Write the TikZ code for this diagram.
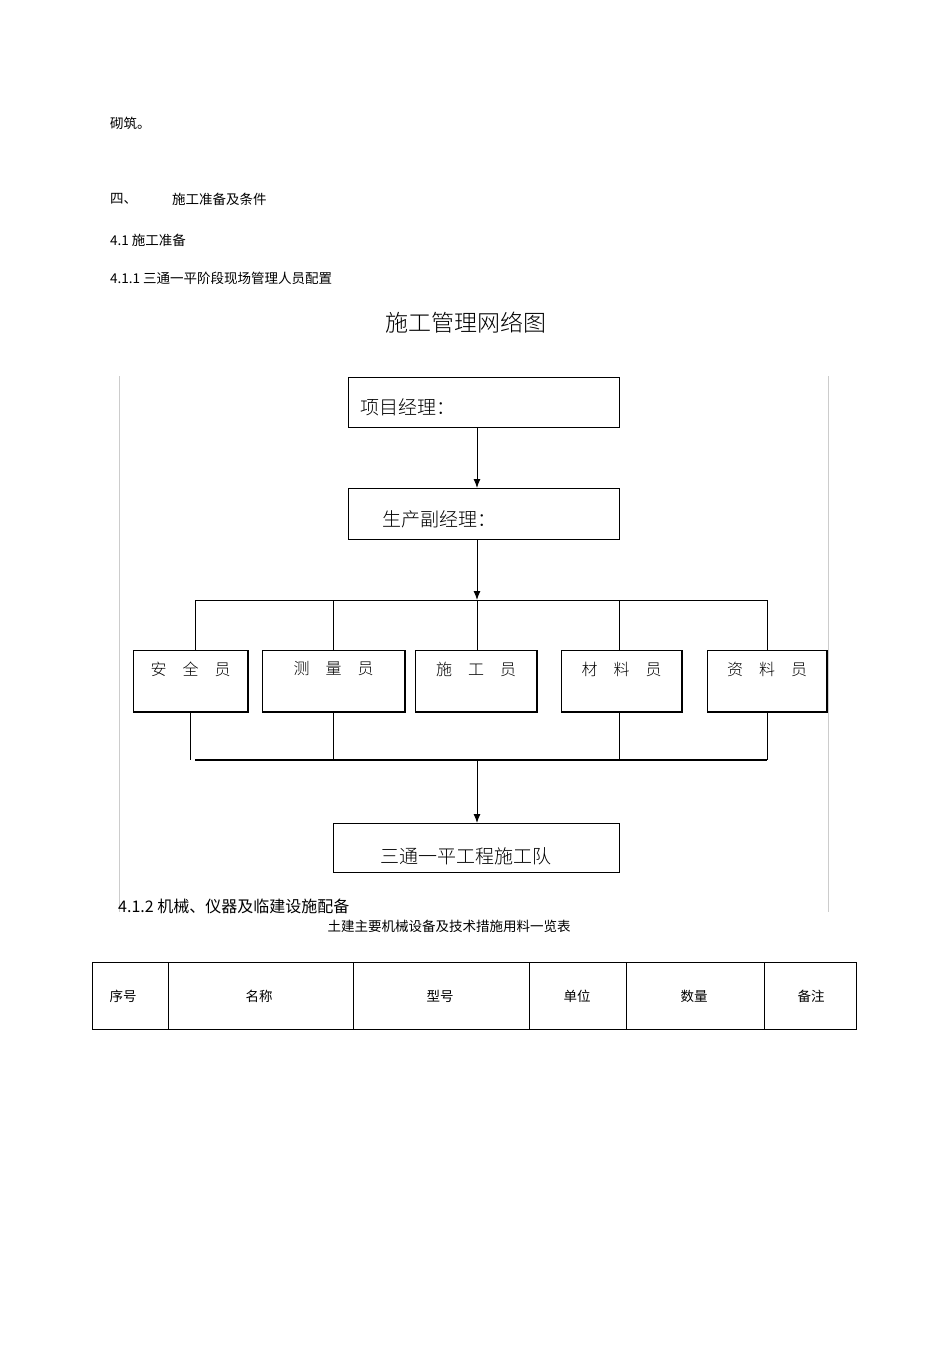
\documentclass[tikz,border=0pt]{standalone}
\usepackage{fontspec}
\usetikzlibrary{arrows.meta}
\newfontfamily\cjk{Noto Sans CJK SC}
\newfontfamily\cjkl{Noto Sans CJK SC Light}
\begin{document}
\begin{tikzpicture}[x=1pt,y=-1pt,>={Latex[length=9pt,width=7pt]},
  bx/.style={draw,line width=1pt},
  tx/.style={font=\cjk\fontsize{13.5}{15}\selectfont,inner sep=0,anchor=west},
  lbl/.style={font=\cjkl\fontsize{19}{21}\selectfont,inner sep=0},
  ln/.style={line width=1pt}]
\useasboundingbox (0,0) rectangle (950,1345);
\node[tx] (t1) at (110,123) {砌筑。};
\node[tx] (t2) at (110,199) {四、};
\node[tx] (t3) at (172,199) {施工准备及条件};
\node[tx] (t4) at (110,240) {4.1 施工准备};
\node[tx] (t5) at (110,278) {4.1.1 三通一平阶段现场管理人员配置};
\node[font=\cjkl\fontsize{23}{25}\selectfont] (title) at (466,323) {施工管理网络图};
\draw[gray!40] (119,376) -- (119,912) (828,376) -- (828,912);
\draw[bx] (348,377) rectangle (619,427);
\node[lbl,anchor=west] (a) at (360,407) {项目经理：};
\draw[bx] (348,488) rectangle (619,539);
\node[lbl,anchor=west] (b) at (382,519) {生产副经理：};
\coordinate (a1) at (477,427); \coordinate (a2) at (477,488);
\coordinate (b1) at (477,539); \coordinate (b2) at (477,600);
\draw[ln,->] (a1) -- (a2);
\draw[ln,->] (b1) -- (b2);
\draw[ln] (195,600) -- (767,600);
\foreach \x in {195,333,477,619,767} \draw[ln] (\x,600) -- (\x,650);
\foreach \l/\r/\t in {133/248/安\quad 全\quad 员,262/405/测\quad 量\quad 员,415/537/施\quad 工\quad 员,561/682/材\quad 料\quad 员,707/827/资\quad 料\quad 员}{
  \draw[bx] (\l,650) rectangle (\r,712);
  \draw[line width=2pt] (\l,712) -- (\r,712) -- (\r,650);
  \node[font=\cjkl\fontsize{16}{18}\selectfont] at ({(\l+\r)/2},669) {\t};
}
\foreach \x in {190,333,619,767} \draw[ln] (\x,712) -- (\x,760);
\draw[line width=2pt] (195,760) -- (767,760);
\coordinate (c1) at (477,760); \coordinate (c2) at (477,823);
\draw[ln,->] (c1) -- (c2);
\draw[bx] (333,823) rectangle (619,872);
\node[lbl] (c) at (466,856) {三通一平工程施工队};
\node[tx,font=\cjk\fontsize{16}{18}\selectfont] (t6) at (118,906) {4.1.2 机械、仪器及临建设施配备};
\node[font=\cjk\fontsize{13.5}{15}\selectfont] (t7) at (449,926) {土建主要机械设备及技术措施用料一览表};
\draw[line width=0.6pt] (92,962) rectangle (856,1029);
\foreach \x in {168,353,529,626,764} \draw[line width=0.6pt] (\x,962) -- (\x,1029);
\foreach \x/\t in {123/序号,259/名称,440/型号,577/单位,694/数量,811/备注}
  \node[font=\cjk\fontsize{13.5}{15}\selectfont] at (\x,996) {\t};
\end{tikzpicture}
\end{document}
